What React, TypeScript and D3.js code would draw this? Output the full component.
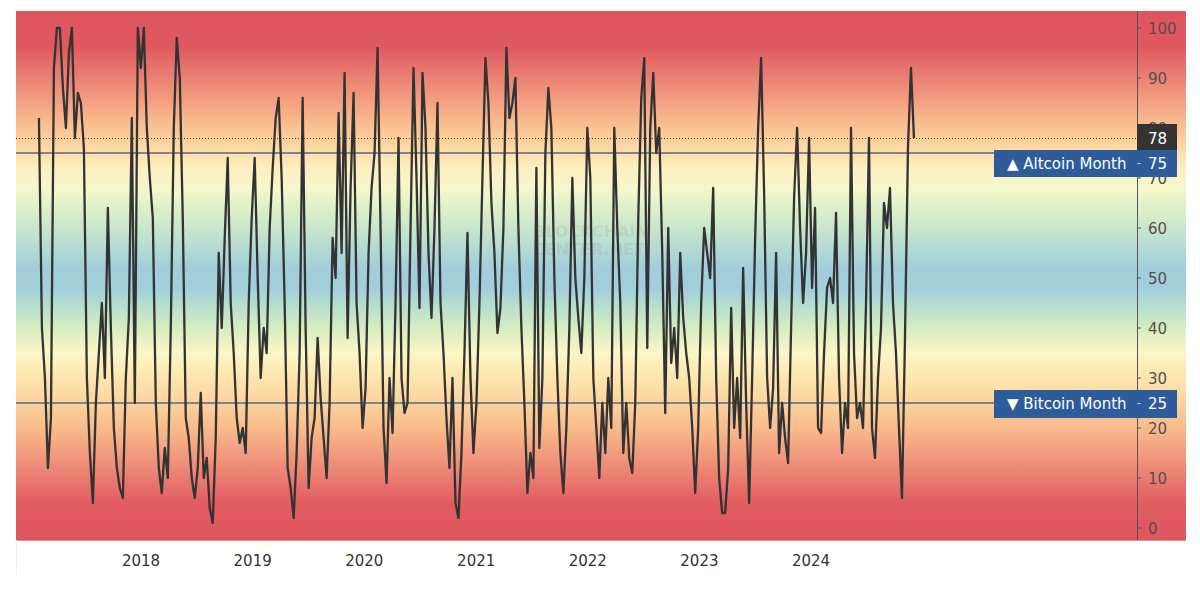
import React from "react";
import * as d3 from "d3";

// Altcoin season index, sampled roughly every 9.8 days from Feb 2017
const START_DATE = new Date(2017, 1, 1);
const STEP_DAYS = 9.8;
const VALUES: number[] = [
  82, 40, 30, 12, 22, 92, 100, 100, 88, 80, 95, 100, 78, 87, 85, 76, 30, 15, 5, 25,
  35, 45, 30, 64, 40, 20, 12, 8, 6, 30, 42, 82, 25, 100, 92, 100, 80, 70, 62, 25,
  12, 7, 16, 10, 40, 80, 98, 90, 62, 22, 18, 10, 6, 12, 27, 10, 14, 4, 1, 18,
  55, 40, 58, 74, 45, 35, 22, 17, 20, 15, 45, 62, 74, 50, 30, 40, 35, 60, 72, 82,
  86, 70, 45, 12, 8, 2, 15, 35, 86, 40, 8, 18, 22, 38, 26, 18,
  10, 25, 58, 50, 83, 55, 91, 38, 68, 87, 45, 35, 20, 28, 55, 68, 75, 96, 60, 20,
  9, 30, 19, 45, 78, 30, 23, 25, 60, 92, 70, 44, 91, 80, 55, 42, 60, 85, 45, 35,
  22, 12, 30, 5, 2, 15, 35, 59, 30, 15, 25, 45, 70, 94, 85, 65, 55, 39, 44, 60,
  96, 82, 85, 90, 60, 40, 25, 7, 15, 10, 72, 16, 30, 75, 88, 80, 50, 30, 15, 7,
  20, 40, 70, 50, 42, 35, 50, 80, 70, 30, 20, 10, 25, 15, 30, 20, 80, 60, 45, 15,
  25, 14, 11, 25, 62, 86, 94, 36, 80, 91, 75, 80, 55, 23, 60, 33, 40, 30, 55, 42,
  35, 30, 20, 7, 20, 45, 60, 55, 50, 68, 30, 10, 3, 3, 12, 44, 20, 30, 18, 52,
  25, 5, 30, 58, 80, 94, 67, 30, 20, 28, 55, 15, 25, 18, 13, 40, 66, 80, 60, 45,
  55, 78, 48, 64, 20, 19, 35, 48, 50, 45, 63, 30, 15, 25, 20, 80, 35, 22, 25, 20,
  45, 78, 20, 14, 30, 40, 65, 60, 68, 45, 35, 20, 6, 38, 76, 92, 78,
];

const YEAR_TICKS = [2018, 2019, 2020, 2021, 2022, 2023, 2024];
const Y_TICKS = [0, 10, 20, 30, 40, 50, 60, 70, 80, 90, 100];
const ALTCOIN_LEVEL = 75;
const BITCOIN_LEVEL = 25;
const CURRENT_VALUE = 78;
const ALTCOIN_LABEL = "▲ Altcoin Month";
const BITCOIN_LABEL = "▼ Bitcoin Month";
const WATERMARK = ["BLOCKCHAIN", "CENTER.NET"];

// background colour by index value
const BG_STOPS: [number, string][] = [
  [103.4, "#df565e"],
  [96, "#e05a60"],
  [90, "#eb8174"],
  [85, "#f4a282"],
  [80, "#fbc391"],
  [76, "#fdd9a3"],
  [72, "#fdefc0"],
  [68, "#f6f7cb"],
  [63, "#d8eec8"],
  [58, "#bfe1d0"],
  [52, "#a2cedc"],
  [48, "#a2cedc"],
  [44, "#b9e0cd"],
  [40, "#d5edc2"],
  [35, "#fcf6c6"],
  [30, "#fde5ae"],
  [25, "#fcd39c"],
  [20, "#f9bb8b"],
  [15, "#f29c7e"],
  [10, "#ea7c71"],
  [5, "#e15d62"],
  [-2.4, "#df565e"],
];

const W = 1200;
const H = 602;
const LEFT = 16;
const AXIS_X = 1137;
const BG_RIGHT = 1186;
const TOP = 11;
const BOTTOM = 540;

export default function App() {
  const x = d3
    .scaleTime()
    .domain([new Date(2016, 10, 18), new Date(2026, 11, 2)])
    .range([LEFT, AXIS_X]);
  const y = d3.scaleLinear().domain([0, 100]).range([528, 28]);

  const data = VALUES.map((v, i) => ({
    date: d3.timeHour.offset(START_DATE, Math.round(i * STEP_DAYS * 24)),
    value: v,
  }));

  const line = d3
    .line<{ date: Date; value: number }>()
    .x((d) => x(d.date))
    .y((d) => y(d.value))
    .curve(d3.curveLinear);

  const font = "'DejaVu Sans', Verdana, sans-serif";
  const bandH = BOTTOM - TOP;

  return (
    <svg
      width={W}
      height={H}
      style={{ position: "absolute", left: 0, top: 0, background: "#fff" }}
    >
      <defs>
        <linearGradient id="bg" gradientUnits="userSpaceOnUse" x1="0" x2="0" y1={TOP} y2={BOTTOM}>
          {BG_STOPS.map(([v, c], i) => (
            <stop key={i} offset={Math.max(0, Math.min(1, (y(v) - TOP) / bandH))} stopColor={c} />
          ))}
        </linearGradient>
        <clipPath id="plot">
          <rect x={LEFT} y={TOP} width={AXIS_X - LEFT} height={bandH} />
        </clipPath>
      </defs>

      <rect x={LEFT} y={TOP} width={BG_RIGHT - LEFT} height={bandH} fill="url(#bg)" />
      <line x1={LEFT} x2={BG_RIGHT} y1={BOTTOM + 0.5} y2={BOTTOM + 0.5} stroke="#c99" strokeWidth={1} />
      <line x1={LEFT + 0.5} x2={LEFT + 0.5} y1={BOTTOM} y2={575} stroke="#eee" strokeWidth={1} />

      {/* watermark */}
      {WATERMARK.map((t, i) => (
        <text
          key={t}
          x={533}
          y={237 + i * 18}
          fontFamily={font}
          fontWeight="bold"
          fontSize={16}
          fill="#777"
          fillOpacity={0.14}
        >
          {t}
        </text>
      ))}

      {/* reference lines */}
      <line
        x1={LEFT}
        x2={AXIS_X}
        y1={y(CURRENT_VALUE) + 0.5}
        y2={y(CURRENT_VALUE) + 0.5}
        stroke="#444"
        strokeWidth={1}
        strokeDasharray="1,2"
      />
      <line x1={LEFT} x2={AXIS_X} y1={y(ALTCOIN_LEVEL)} y2={y(ALTCOIN_LEVEL)} stroke="#4e6a86" strokeWidth={1.6} />
      <line x1={LEFT} x2={AXIS_X} y1={y(BITCOIN_LEVEL)} y2={y(BITCOIN_LEVEL)} stroke="#4e6a86" strokeWidth={1.6} />

      {/* series */}
      <g clipPath="url(#plot)">
        <path d={line(data) || ""} fill="none" stroke="#333" strokeWidth={2.3} strokeLinejoin="round" />
      </g>

      {/* y axis */}
      <line x1={AXIS_X + 0.5} x2={AXIS_X + 0.5} y1={TOP} y2={BOTTOM} stroke="#555" strokeWidth={1} />
      {Y_TICKS.map((t) => (
        <g key={t}>
          <line x1={AXIS_X} x2={AXIS_X + 4} y1={y(t)} y2={y(t)} stroke="#555" strokeWidth={1} />
          <text x={1148} y={y(t) + 5.5} fontFamily={font} fontSize={15} fill="#5a4c4c">
            {t}
          </text>
        </g>
      ))}

      {/* x axis labels */}
      {YEAR_TICKS.map((yr) => (
        <text
          key={yr}
          x={x(new Date(yr, 0, 1))}
          y={566}
          textAnchor="middle"
          fontFamily={font}
          fontSize={15}
          fill="#333"
        >
          {yr}
        </text>
      ))}

      {/* current value label */}
      <rect x={AXIS_X} y={y(CURRENT_VALUE) - 14} width={40} height={26} fill="#333" />
      <text x={1148} y={y(CURRENT_VALUE) + 5.5} fontFamily={font} fontSize={15} fill="#fff">
        {CURRENT_VALUE}
      </text>

      {/* Altcoin month label (shifted below line) */}
      <rect x={994} y={y(ALTCOIN_LEVEL) - 3} width={183} height={27} fill="#2e5b9a" />
      <text x={1007} y={y(ALTCOIN_LEVEL) + 15.5} fontFamily={font} fontSize={15} fill="#fff">
        {ALTCOIN_LABEL}
      </text>
      <line x1={AXIS_X} x2={AXIS_X + 4} y1={y(ALTCOIN_LEVEL) + 10.5} y2={y(ALTCOIN_LEVEL) + 10.5} stroke="#c9b9c0" />
      <text x={1148} y={y(ALTCOIN_LEVEL) + 15.5} fontFamily={font} fontSize={15} fill="#fff">
        {ALTCOIN_LEVEL}
      </text>

      {/* Bitcoin month label */}
      <rect x={994} y={y(BITCOIN_LEVEL) - 13} width={183} height={28} fill="#2e5b9a" />
      <text x={1007} y={y(BITCOIN_LEVEL) + 6} fontFamily={font} fontSize={15} fill="#fff">
        {BITCOIN_LABEL}
      </text>
      <line x1={AXIS_X} x2={AXIS_X + 4} y1={y(BITCOIN_LEVEL) + 0.5} y2={y(BITCOIN_LEVEL) + 0.5} stroke="#c9b9c0" />
      <text x={1148} y={y(BITCOIN_LEVEL) + 6} fontFamily={font} fontSize={15} fill="#fff">
        {BITCOIN_LEVEL}
      </text>
    </svg>
  );
}
